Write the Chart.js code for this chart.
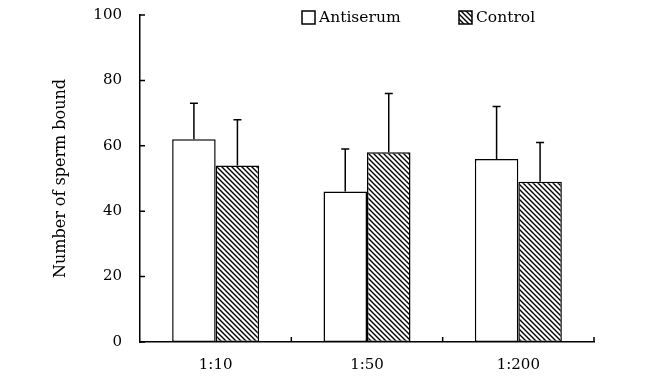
<!DOCTYPE html>
<html>
<head>
<meta charset="utf-8">
<script src="https://cdn.jsdelivr.net/npm/chart.js@4"></script>
<style>
  html, body { margin: 0; padding: 0; background: #fff; }
  #wrap { width: 650px; height: 385px; }
</style>
</head>
<body>
<div id="wrap"><canvas id="myChart"></canvas></div>
<script>
const categories = ['1:10', '1:50', '1:200'];
const antiserum = [62, 46, 56];
const antiserumErr = [11, 13, 16];
const control = [54, 58, 49];
const controlErr = [14, 18, 12];
const yTicks = [0, 20, 40, 60, 80, 100];
const seriesNames = ['Antiserum', 'Control'];

const FONT = "'DejaVu Serif', 'Liberation Serif', serif";

// diagonal hatch "\\\" for the control bars
let makeHatch = () => {
    let c = document.createElement('canvas');
    c.width = 5; c.height = 5;
    let g = c.getContext('2d');
    g.fillStyle = '#fff';
    g.fillRect(0, 0, 5, 5);
    g.strokeStyle = '#000';
    g.lineWidth = 1.4;
    g.beginPath();
    g.moveTo(-1, -1); g.lineTo(6, 6);
    g.moveTo(-1, 4); g.lineTo(1, 6);
    g.moveTo(4, -1); g.lineTo(6, 1);
    g.stroke();
    return document.createElement('canvas').getContext('2d').createPattern(c, 'repeat');
};
const hatch = makeHatch();

const errorBars = {
    id: 'errorBars',
    afterDatasetsDraw(chart) {
        let ctx = chart.ctx;
        let y = chart.scales.y;
        let errs = [antiserumErr, controlErr];
        ctx.save();
        ctx.strokeStyle = '#000';
        ctx.lineWidth = 1.5;
        chart.data.datasets.forEach((ds, d) => {
            chart.getDatasetMeta(d).data.forEach((bar, i) => {
                let top = y.getPixelForValue(ds.data[i] + errs[d][i]);
                ctx.beginPath();
                ctx.moveTo(bar.x, bar.y);
                ctx.lineTo(bar.x, top);
                ctx.moveTo(bar.x - 4, top);
                ctx.lineTo(bar.x + 4, top);
                ctx.stroke();
            });
        });
        ctx.restore();
    }
};

// inward tick marks on both axes
const innerTicks = {
    id: 'innerTicks',
    afterDraw(chart) {
        let ctx = chart.ctx;
        let a = chart.chartArea;
        let y = chart.scales.y;
        ctx.save();
        ctx.strokeStyle = '#000';
        ctx.lineWidth = 1.5;
        ctx.beginPath();
        yTicks.forEach(v => {
            let py = y.getPixelForValue(v);
            ctx.moveTo(a.left, py);
            ctx.lineTo(a.left + 5, py);
        });
        let step = (a.right - a.left) / categories.length;
        for (let i = 1; i <= categories.length; i++) {
            let px = a.left + step * i;
            ctx.moveTo(px, a.bottom);
            ctx.lineTo(px, a.bottom - 5);
        }
        ctx.stroke();
        ctx.restore();
    }
};

const legendBoxes = {
    id: 'legendBoxes',
    afterDraw(chart) {
        let ctx = chart.ctx;
        let items = [
            {x: 302, fill: '#fff', text: seriesNames[0]},
            {x: 459, fill: hatch, text: seriesNames[1]}
        ];
        ctx.save();
        ctx.font = '15.5px ' + FONT;
        ctx.textBaseline = 'middle';
        items.forEach(it => {
            ctx.fillStyle = it.fill;
            ctx.fillRect(it.x, 11, 13, 13);
            ctx.strokeStyle = '#000';
            ctx.lineWidth = 1.5;
            ctx.strokeRect(it.x, 11, 13, 13);
            ctx.fillStyle = '#000';
            ctx.fillText(it.text, it.x + 17, 17.5);
        });
        ctx.restore();
    }
};

let ctx = document.getElementById('myChart').getContext('2d');

this.chart = new Chart(ctx, {
    type: 'bar',
    data: {
        labels: categories,
        datasets: [
            {
                label: seriesNames[0],
                data: antiserum,
                backgroundColor: '#fff',
                borderColor: '#000',
                borderWidth: 1.5,
                borderSkipped: false
            },
            {
                label: seriesNames[1],
                data: control,
                backgroundColor: hatch,
                borderColor: '#000',
                borderWidth: 1.5,
                borderSkipped: false
            }]
    },
    options: {
        responsive: true,
        maintainAspectRatio: false,
        animation: false,
        layout: { padding: { top: 15, right: 56, left: 0, bottom: 0 } },
        datasets: { bar: { categoryPercentage: 0.575, barPercentage: 1 } },
        plugins: {
            legend: { display: false },
            tooltip: { enabled: false }
        },
        scales: {
            x: {
                grid: { display: false, drawTicks: false },
                border: { color: '#000', width: 1.5 },
                ticks: { color: '#000', padding: 14, font: { family: FONT, size: 15 } },
                afterFit: (s) => { s.height = 43; }
            },
            y: {
                min: 0,
                max: 100,
                afterBuildTicks: (s) => { s.ticks = yTicks.map(v => ({value: v})); },
                grid: { display: false, drawTicks: false },
                border: { color: '#000', width: 1.5 },
                ticks: { color: '#000', padding: 18, font: { family: FONT, size: 15 } },
                title: {
                    display: true,
                    text: 'Number of sperm bound',
                    color: '#000',
                    padding: { top: 51, bottom: 0 },
                    font: { family: FONT, size: 16 }
                },
                afterFit: (s) => { s.width = 140; s.paddingTop = 0; s.paddingBottom = 0; }
            }
        }
    },
    plugins: [errorBars, innerTicks, legendBoxes]
});
</script>
</body>
</html>
